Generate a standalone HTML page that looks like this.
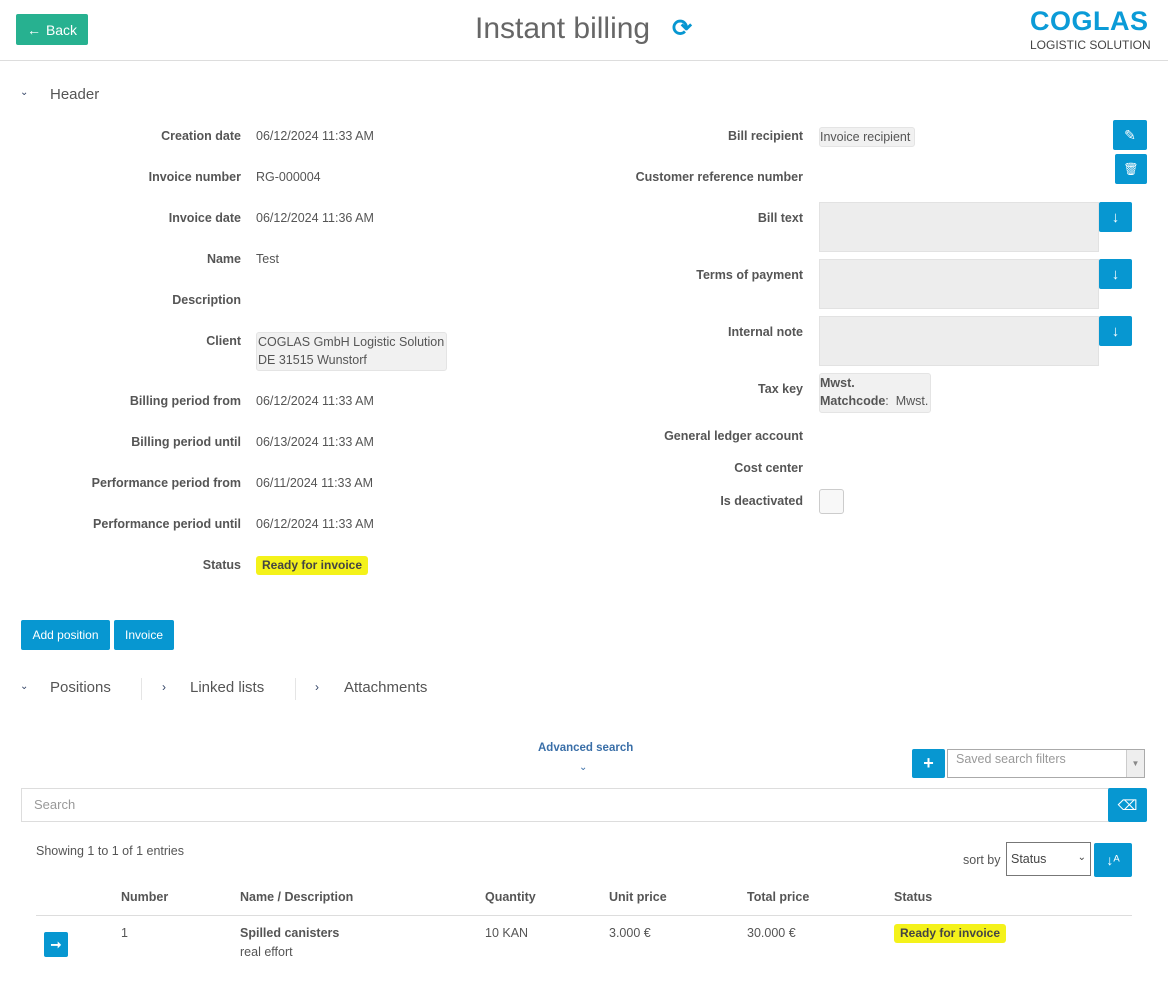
<!DOCTYPE html>
<html><head><meta charset="utf-8"><style>
*{box-sizing:border-box;margin:0;padding:0}
body{width:1168px;height:987px;position:relative;background:#fff;font-family:"Liberation Sans",sans-serif;color:#555;overflow:hidden}
.a{position:absolute;white-space:nowrap}
.lbl{position:absolute;font-size:12.5px;font-weight:bold;color:#555;text-align:right;white-space:nowrap;line-height:16px}
.val{position:absolute;font-size:12.5px;color:#555;white-space:nowrap;line-height:16px}
.btn{position:absolute;background:#0797d1;color:#fff;border-radius:2px;font-size:12px;display:flex;align-items:center;justify-content:center}
.ta{position:absolute;background:#ededed;border:1px solid #e2e2e2;width:280px;height:50px}
.th{position:absolute;font-size:12.5px;font-weight:bold;color:#555;white-space:nowrap}
.td{position:absolute;font-size:12.5px;color:#555;white-space:nowrap}
</style></head><body>
<div class="btn" style="left:16px;top:14px;width:72px;height:31px;background:#27b190;font-size:14px"><b style="margin-right:5px">←</b>Back</div>
<div class="a" style="left:475px;top:12px;font-size:30px;color:#666;font-weight:300">Instant billing</div>
<div class="a" style="left:672px;top:14px;font-size:24px;color:#0797d1;font-weight:bold">⟳</div>
<div class="a" style="left:1030px;top:6px;font-size:27px;font-weight:bold;color:#0b9bd7;letter-spacing:0.5px">COGLAS</div>
<div class="a" style="left:1030px;top:38px;font-size:12px;color:#444">LOGISTIC SOLUTION</div>
<div class="a" style="left:0;top:60px;width:1168px;height:1px;background:#ddd"></div>
<div class="a" style="left:20px;top:87px;font-size:10px;color:#346">⌄</div>
<div class="a" style="left:50px;top:86px;font-size:15px;color:#555">Header</div>

<div class="lbl" style="right:927px;top:128px">Creation date</div><div class="val" style="left:256px;top:128px">06/12/2024 11:33 AM</div>
<div class="lbl" style="right:927px;top:169px">Invoice number</div><div class="val" style="left:256px;top:169px">RG-000004</div>
<div class="lbl" style="right:927px;top:210px">Invoice date</div><div class="val" style="left:256px;top:210px">06/12/2024 11:36 AM</div>
<div class="lbl" style="right:927px;top:251px">Name</div><div class="val" style="left:256px;top:251px">Test</div>
<div class="lbl" style="right:927px;top:292px">Description</div>
<div class="lbl" style="right:927px;top:333px">Client</div>
<div class="a" style="left:256px;top:332px;width:191px;height:39px;background:#f1f1f1;border:1px solid #e4e4e4;border-radius:3px;font-size:12.5px;line-height:18px;padding-left:1px">COGLAS GmbH Logistic Solution<br>DE 31515 Wunstorf</div>
<div class="lbl" style="right:927px;top:393px">Billing period from</div><div class="val" style="left:256px;top:393px">06/12/2024 11:33 AM</div>
<div class="lbl" style="right:927px;top:434px">Billing period until</div><div class="val" style="left:256px;top:434px">06/13/2024 11:33 AM</div>
<div class="lbl" style="right:927px;top:475px">Performance period from</div><div class="val" style="left:256px;top:475px">06/11/2024 11:33 AM</div>
<div class="lbl" style="right:927px;top:516px">Performance period until</div><div class="val" style="left:256px;top:516px">06/12/2024 11:33 AM</div>
<div class="lbl" style="right:927px;top:557px">Status</div>
<div class="a" style="left:256px;top:556px;height:19px;padding:0 6px;background:#f4f21a;border-radius:3px;font-size:12px;font-weight:bold;line-height:19px;color:#444">Ready for invoice</div>

<div class="lbl" style="right:365px;top:128px">Bill recipient</div>
<div class="a" style="left:819px;top:127px;height:20px;width:96px;background:#f1f1f1;border:1px solid #e4e4e4;border-radius:3px;font-size:12.5px;line-height:18px;color:#555">Invoice recipient</div>
<div class="btn" style="left:1113px;top:120px;width:34px;height:30px;font-size:14px">✎</div>
<div class="btn" style="left:1115px;top:154px;width:32px;height:30px;font-size:12px">🗑</div>
<div class="lbl" style="right:365px;top:169px">Customer reference number</div>
<div class="lbl" style="right:365px;top:210px">Bill text</div>
<div class="ta" style="left:819px;top:202px"></div><div class="btn" style="left:1099px;top:202px;width:33px;height:30px;font-size:15px;font-weight:bold">↓</div>
<div class="lbl" style="right:365px;top:267px">Terms of payment</div>
<div class="ta" style="left:819px;top:259px"></div><div class="btn" style="left:1099px;top:259px;width:33px;height:30px;font-size:15px;font-weight:bold">↓</div>
<div class="lbl" style="right:365px;top:324px">Internal note</div>
<div class="ta" style="left:819px;top:316px"></div><div class="btn" style="left:1099px;top:316px;width:33px;height:30px;font-size:15px;font-weight:bold">↓</div>
<div class="lbl" style="right:365px;top:381px">Tax key</div>
<div class="a" style="left:819px;top:373px;width:112px;height:40px;background:#f1f1f1;border:1px solid #e4e4e4;border-radius:3px;font-size:12.5px;line-height:18px;color:#555"><b>Mwst.</b><br><b>Matchcode</b>:&nbsp; Mwst.</div>
<div class="lbl" style="right:365px;top:428px">General ledger account</div>
<div class="lbl" style="right:365px;top:460px">Cost center</div>
<div class="lbl" style="right:365px;top:493px">Is deactivated</div>
<div class="a" style="left:819px;top:489px;width:25px;height:25px;border:1px solid #ccc;border-radius:3px;background:#f8f8f8"></div>

<div class="btn" style="left:21px;top:620px;width:89px;height:30px">Add position</div>
<div class="btn" style="left:114px;top:620px;width:60px;height:30px">Invoice</div>

<div class="a" style="left:20px;top:681px;font-size:10px;color:#346">⌄</div>
<div class="a" style="left:50px;top:679px;font-size:15px">Positions</div>
<div class="a" style="left:141px;top:678px;width:1px;height:22px;background:#e5e5e5"></div>
<div class="a" style="left:162px;top:680px;font-size:12px;color:#346">›</div>
<div class="a" style="left:190px;top:679px;font-size:15px">Linked lists</div>
<div class="a" style="left:295px;top:678px;width:1px;height:22px;background:#e5e5e5"></div>
<div class="a" style="left:315px;top:680px;font-size:12px;color:#346">›</div>
<div class="a" style="left:344px;top:679px;font-size:15px">Attachments</div>

<div class="a" style="left:538px;top:742px;font-size:11.5px;font-weight:bold;color:#3a6fa8">Advanced search</div>
<div class="a" style="left:579px;top:762px;font-size:10px;color:#3a6fa8">⌄</div>
<div class="btn" style="left:912px;top:749px;width:33px;height:29px;font-size:18px;font-weight:bold">+</div>
<div class="a" style="left:947px;top:749px;width:198px;height:29px;border:1px solid #aaa;font-size:12.5px;color:#999;padding:2px 8px">Saved search filters</div>
<div class="a" style="left:1126px;top:750px;width:18px;height:27px;background:#eee;border-left:1px solid #ccc;font-size:8px;color:#888;text-align:center;line-height:27px">▼</div>
<div class="a" style="left:21px;top:788px;width:1090px;height:34px;border:1px solid #ddd;font-size:13px;color:#999;padding:8px 12px">Search</div>
<div class="btn" style="left:1108px;top:788px;width:39px;height:34px;font-size:14px">⌫</div>

<div class="a" style="left:36px;top:844px;font-size:12.5px">Showing 1 to 1 of 1 entries</div>
<div class="a" style="left:963px;top:853px;font-size:12.5px">sort by</div>
<div class="a" style="left:1006px;top:842px;width:85px;height:34px;border:1px solid #777;font-size:12.5px;padding:9px 4px;color:#444">Status<span style="position:absolute;right:4px;top:9px;font-size:10px">⌄</span></div>
<div class="btn" style="left:1094px;top:843px;width:38px;height:34px;font-size:14px">↓ᴬ</div>

<div class="th" style="left:121px;top:890px">Number</div>
<div class="th" style="left:240px;top:890px">Name / Description</div>
<div class="th" style="left:485px;top:890px">Quantity</div>
<div class="th" style="left:609px;top:890px">Unit price</div>
<div class="th" style="left:747px;top:890px">Total price</div>
<div class="th" style="left:894px;top:890px">Status</div>
<div class="a" style="left:36px;top:915px;width:1096px;height:1px;background:#ddd"></div>
<div class="btn" style="left:44px;top:932px;width:24px;height:25px;font-size:13px;font-weight:bold">➞</div>
<div class="td" style="left:121px;top:926px">1</div>
<div class="td" style="left:240px;top:926px;font-weight:bold">Spilled canisters</div>
<div class="td" style="left:240px;top:945px">real effort</div>
<div class="td" style="left:485px;top:926px">10 KAN</div>
<div class="td" style="left:609px;top:926px">3.000 €</div>
<div class="td" style="left:747px;top:926px">30.000 €</div>
<div class="a" style="left:894px;top:924px;height:19px;padding:0 6px;background:#f4f21a;border-radius:3px;font-size:12px;font-weight:bold;line-height:19px;color:#444">Ready for invoice</div>
</body></html>
